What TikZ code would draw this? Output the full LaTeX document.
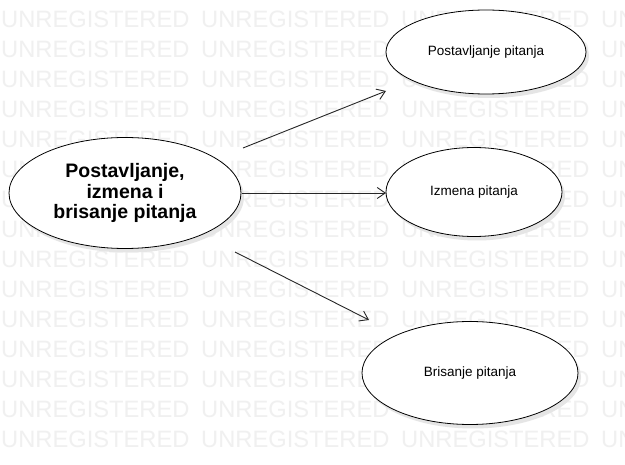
\documentclass[tikz,border=0pt]{standalone}
\usepackage{fontspec}
\setmainfont{Liberation Sans}
\usetikzlibrary{shapes.geometric,arrows.meta,shadows}
\definecolor{wmgray}{RGB}{240,240,240}
\tikzset{
  wm/.style={text=wmgray, font=\fontsize{23.7}{24}\selectfont, inner sep=0pt, anchor=base west},
  usecase/.style={ellipse, draw=black, line width=0.8pt, fill=white, inner sep=0pt,
    drop shadow={shadow xshift=3pt, shadow yshift=-4pt, fill=black!10, opacity=1}},
  smalltxt/.style={font=\fontsize{13.5}{16}\selectfont},
  conn/.style={draw=black!85, line width=0.9pt, -{Straight Barb[length=8pt,width=11pt]}}
}
\begin{document}
\begin{tikzpicture}[x=1pt,y=-1pt]
\useasboundingbox[fill=white] (0,0) rectangle (625,465);
\begin{scope}
\clip (0,0) rectangle (625,465);
\foreach \r in {0,...,14}{
  \foreach \c in {0,...,3}{
    \node[wm] (wm-\r-\c) at ({1+200*\c},{28+30*\r}) {UNREGISTERED};
  }
}
\end{scope}
\node[usecase, minimum width=232pt, minimum height=111pt,
  font=\bfseries\fontsize{19.5}{20.5}\selectfont, align=center] (main) at (125,193)
  {Postavljanje,\\izmena i\\brisanje pitanja};
\node[usecase, smalltxt, minimum width=200pt, minimum height=84pt] (post) at (486,52) {Postavljanje pitanja};
\node[usecase, smalltxt, minimum width=176pt, minimum height=89pt] (izm) at (474,192) {Izmena pitanja};
\node[usecase, smalltxt, minimum width=216pt, minimum height=103pt] (bris) at (470,373) {Brisanje pitanja};
\coordinate (a1s) at (243,148);
\coordinate (a1e) at (386,91);
\coordinate (a2s) at (242,193);
\coordinate (a2e) at (386,193);
\coordinate (a3s) at (235,252);
\coordinate (a3e) at (369,320);
\draw[conn] (a1s) -- (a1e);
\draw[conn] (a2s) -- (a2e);
\draw[conn] (a3s) -- (a3e);
\end{tikzpicture}
\end{document}
